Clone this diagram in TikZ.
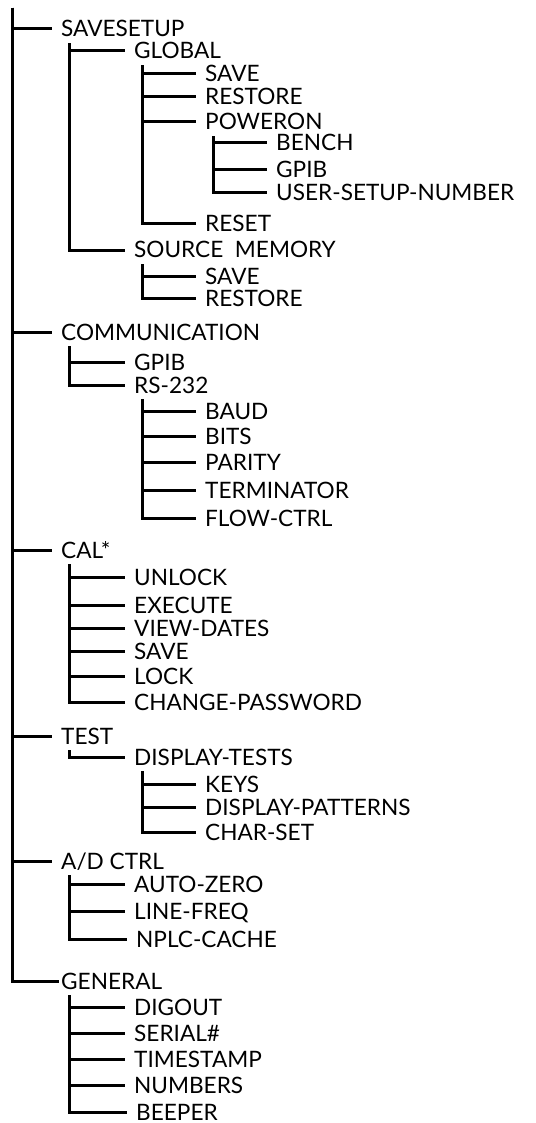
\documentclass[tikz,border=0pt]{standalone}
\usepackage{fontspec}
\setmainfont{Lato}
\usepackage{tikz}
\usetikzlibrary{positioning}
\newcommand{\menufont}{\fontsize{22.6}{22.6}\selectfont}
\tikzset{
  branch/.style={line width=3pt, draw=black},
  menuitem/.style={anchor=west, inner xsep=9pt, inner ysep=0pt,
    text height=16pt, text depth=0pt, font=\menufont}
}

\begin{document}
\begin{tikzpicture}[x=1pt,y=-1pt]
    \useasboundingbox (0,0) rectangle (535,1123);
    \coordinate (root) at (12,8);

    % level 1
    \node[menuitem] (savesetup) at (52,29) {SAVESETUP};
    \node[menuitem] (comm) at (52,332) {COMMUNICATION};
    \node[menuitem] (cal) at (52,550) {CAL*};
    \node[menuitem] (test) at (52,736) {TEST};
    \node[menuitem] (adctrl) at (52,861) {A/D CTRL};
    \node[menuitem, inner xsep=2pt] (general) at (59,981) {GENERAL};

    % savesetup
    \node[menuitem] (global) at (125,51) {GLOBAL};
    \node[menuitem] (gsave) at (196,74) {SAVE};
    \node[menuitem] (grestore) at (196,97) {RESTORE};
    \node[menuitem] (poweron) at (196,122) {POWERON};
    \node[menuitem] (bench) at (267,143) {BENCH};
    \node[menuitem] (pgpib) at (267,170) {GPIB};
    \node[menuitem] (usernum) at (267,193) {USER-SETUP-NUMBER};
    \node[menuitem] (reset) at (196,224) {RESET};
    \node[menuitem] (srcmem) at (125,250) {SOURCE\ \ MEMORY};
    \node[menuitem] (msave) at (196,276) {SAVE};
    \node[menuitem] (mrestore) at (196,298) {RESTORE};

    % communication
    \node[menuitem] (cgpib) at (125,362) {GPIB};
    \node[menuitem] (rs232) at (125,385) {RS-232};
    \node[menuitem] (baud) at (196,411) {BAUD};
    \node[menuitem] (bits) at (196,436) {BITS};
    \node[menuitem] (parity) at (196,462) {PARITY};
    \node[menuitem] (term) at (196,490) {TERMINATOR};
    \node[menuitem] (flow) at (196,518) {FLOW-CTRL};

    % cal
    \node[menuitem] (unlock) at (125,577) {UNLOCK};
    \node[menuitem] (execute) at (125,605) {EXECUTE};
    \node[menuitem] (viewdates) at (125,628) {VIEW-DATES};
    \node[menuitem] (calsave) at (125,651) {SAVE};
    \node[menuitem] (lock) at (125,676) {LOCK};
    \node[menuitem] (chpass) at (125,702) {CHANGE-PASSWORD};

    % test
    \node[menuitem] (disptests) at (125,757) {DISPLAY-TESTS};
    \node[menuitem] (keys) at (196,784) {KEYS};
    \node[menuitem] (patterns) at (196,807) {DISPLAY-PATTERNS};
    \node[menuitem] (charset) at (196,832) {CHAR-SET};

    % a/d ctrl
    \node[menuitem] (autozero) at (125,884) {AUTO-ZERO};
    \node[menuitem] (linefreq) at (125,911) {LINE-FREQ};
    \node[menuitem] (nplc) at (127,939) {NPLC-CACHE};

    % general
    \node[menuitem] (digout) at (125,1007) {DIGOUT};
    \node[menuitem] (serial) at (125,1033) {SERIAL\#};
    \node[menuitem] (timestamp) at (125,1059) {TIMESTAMP};
    \node[menuitem] (numbers) at (125,1085) {NUMBERS};
    \node[menuitem] (beeper) at (127,1112) {BEEPER};

    \foreach \c in {savesetup,comm,cal,test,adctrl,general}
        \draw[branch] (root) |- (\c.west);

    \foreach \p/\c in {savesetup/global,savesetup/srcmem,
        global/gsave,global/grestore,global/poweron,global/reset,
        poweron/bench,poweron/pgpib,poweron/usernum,
        srcmem/msave,srcmem/mrestore,
        comm/cgpib,comm/rs232,
        rs232/baud,rs232/bits,rs232/parity,rs232/term,rs232/flow,
        cal/unlock,cal/execute,cal/viewdates,cal/calsave,cal/lock,cal/chpass,
        test/disptests,
        disptests/keys,disptests/patterns,disptests/charset,
        adctrl/autozero,adctrl/linefreq,adctrl/nplc}
        \draw[branch] ([xshift=17pt,yshift=-6pt]\p.south west) |- (\c.west);

    % GENERAL sits closer to its stub
    \foreach \c in {digout,serial,timestamp,numbers,beeper}
        \draw[branch] ([xshift=10pt,yshift=-6pt]general.south west) |- (\c.west);
\end{tikzpicture}
\end{document}
